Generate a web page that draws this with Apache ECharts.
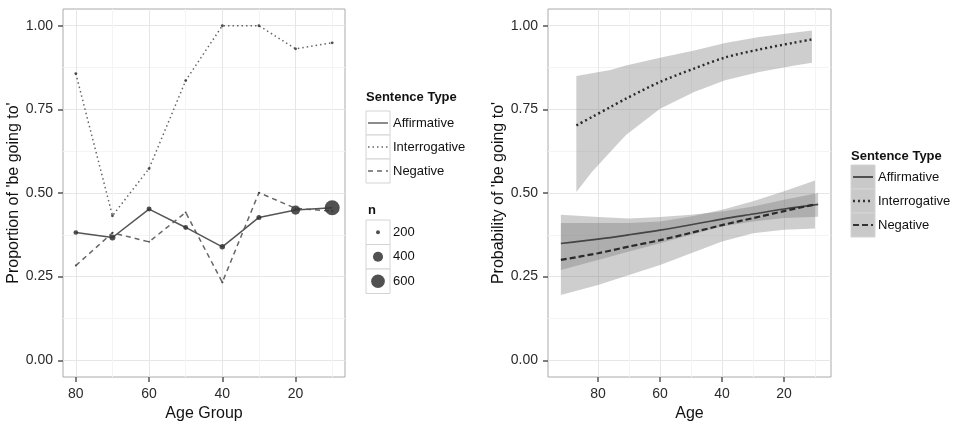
<!DOCTYPE html>
<html>
<head>
<meta charset="utf-8">
<script src="https://cdn.jsdelivr.net/npm/echarts@6/dist/echarts.min.js"></script>
<style>
  html, body { margin: 0; padding: 0; background: #fff; }
  #main { width: 953px; height: 421px; }
</style>
</head>
<body>
<div id="main"></div>
<script>
// left panel: observed proportions per age group
var ageGroups = [80, 70, 60, 50, 40, 30, 20, 10];
var propAff = [0.382, 0.367, 0.452, 0.397, 0.339, 0.427, 0.449, 0.456];
var propInt = [0.857, 0.432, 0.573, 0.836, 1.0, 1.0, 0.931, 0.949];
var propNeg = [0.283, 0.381, 0.354, 0.442, 0.233, 0.501, 0.454, 0.446];
var nAff = [214, 247, 220, 218, 233, 221, 360, 690];
var nInt = [181, 181, 181, 181, 181, 181, 181, 181];
var nNeg = [172, 172, 172, 172, 175, 172, 172, 175];

// right panel: fitted probabilities with confidence bands
var intAges = [87, 82, 76, 71, 60, 49, 39, 28, 17, 11];
var intFit = [0.702, 0.727, 0.757, 0.782, 0.832, 0.872, 0.905, 0.929, 0.949, 0.959];
var intLow = [0.503, 0.563, 0.623, 0.673, 0.752, 0.802, 0.837, 0.862, 0.880, 0.889];
var intHigh = [0.850, 0.858, 0.868, 0.881, 0.904, 0.926, 0.948, 0.966, 0.979, 0.986];

var affAges = [92, 80, 70, 60, 50, 40, 30, 20, 9];
var affFit = [0.349, 0.362, 0.375, 0.389, 0.405, 0.422, 0.437, 0.452, 0.466];
var affLow = [0.27, 0.30, 0.325, 0.35, 0.375, 0.40, 0.415, 0.425, 0.429];
var affHigh = [0.435, 0.428, 0.424, 0.428, 0.435, 0.445, 0.46, 0.48, 0.50];

var negAges = [92, 80, 70, 60, 50, 40, 30, 20, 10];
var negFit = [0.30, 0.32, 0.34, 0.359, 0.381, 0.404, 0.425, 0.446, 0.466];
var negLow = [0.195, 0.225, 0.255, 0.285, 0.32, 0.355, 0.38, 0.39, 0.394];
var negHigh = [0.41, 0.41, 0.41, 0.415, 0.43, 0.45, 0.475, 0.505, 0.537];

var xTicks = [20, 40, 60, 80];
var xMinor = [10, 30, 50, 70];
var yTicks = [0, 0.25, 0.5, 0.75, 1];
var yMinor = [0.125, 0.375, 0.625, 0.875];
var typeNames = ['Affirmative', 'Interrogative', 'Negative'];
var nLegend = [200, 400, 600];

var FONT = 'Liberation Sans';
var bandFill = 'rgba(120,120,120,0.36)';

// point size scale (area ~ linear in n)
function sizeOf(n) {
  return Math.sqrt(Math.max(3, 0.43 * n - 70));
}

function pairs(xs, ys, ns) {
  return xs.map(function (x, i) {
    var d = { value: [x, ys[i]] };
    if (ns) d.symbolSize = sizeOf(ns[i]);
    return d;
  });
}

function band(ages, lo, hi) {
  return function (params, api) {
    var pts = [];
    for (var i = 0; i < ages.length; i++) pts.push(api.coord([ages[i], hi[i]]));
    for (var j = ages.length - 1; j >= 0; j--) pts.push(api.coord([ages[j], lo[j]]));
    return { type: 'polygon', shape: { points: pts }, style: { fill: bandFill } };
  };
}

// major axis: ticks, labels, grid lines
function xAx(grid, min, max, name) {
  return {
    type: 'value', gridIndex: grid, inverse: true, min: min, max: max,
    name: name, nameLocation: 'middle', nameGap: 15,
    nameTextStyle: { fontFamily: FONT, fontSize: 16, color: '#111' },
    axisLine: { show: false, onZero: false },
    axisTick: { show: true, length: 5, customValues: xTicks, lineStyle: { color: '#555', width: 1.5 } },
    axisLabel: { customValues: xTicks, margin: 10, fontFamily: FONT, fontSize: 14, color: '#2a2a2a' },
    splitLine: { show: true, lineStyle: { color: '#e6e6e6', width: 1 } }
  };
}
// minor axis: only the lighter grid lines
function xMinorAx(grid, min, max) {
  return {
    type: 'value', gridIndex: grid, inverse: true, min: min, max: max, position: 'top',
    axisLine: { show: false, onZero: false },
    axisTick: { show: false, customValues: xMinor },
    axisLabel: { show: false },
    splitLine: { show: true, lineStyle: { color: '#f4f4f4', width: 1 } }
  };
}

function yAx(grid, name, gap) {
  return {
    type: 'value', gridIndex: grid, min: -0.05, max: 1.05,
    name: name, nameLocation: 'middle', nameGap: gap,
    nameTextStyle: { fontFamily: FONT, fontSize: 16, color: '#111' },
    axisLine: { show: false, onZero: false },
    axisTick: { show: true, length: 5, customValues: yTicks, lineStyle: { color: '#555', width: 1.5 } },
    axisLabel: {
      customValues: yTicks, margin: 10, fontFamily: FONT, fontSize: 14, color: '#2a2a2a',
      formatter: function (v) { return v.toFixed(2); }
    },
    splitLine: { show: true, lineStyle: { color: '#e6e6e6', width: 1 } }
  };
}
function yMinorAx(grid) {
  return {
    type: 'value', gridIndex: grid, min: -0.05, max: 1.05, position: 'right',
    axisLine: { show: false, onZero: false },
    axisTick: { show: false, customValues: yMinor },
    axisLabel: { show: false },
    splitLine: { show: true, lineStyle: { color: '#f4f4f4', width: 1 } }
  };
}

var leftLine = { color: '#555', width: 1.5 };
var pointStyle = { color: '#333', opacity: 0.85 };

// legends drawn as boxes like the original
var graphics = [];
function txt(x, y, s, bold) {
  graphics.push({
    type: 'text', x: x, y: y,
    style: { text: s, fontFamily: FONT, fontSize: 13, fontWeight: bold ? 'bold' : 'normal',
      fill: '#111', textVerticalAlign: 'middle' }
  });
}
function box(x, y, w, h, fill) {
  graphics.push({ type: 'rect', shape: { x: x, y: y, width: w, height: h },
    style: { fill: fill, stroke: '#d4d4d4', lineWidth: 1 } });
}
function keyLine(x1, x2, y, color, width, dash) {
  graphics.push({ type: 'line', shape: { x1: x1, y1: y, x2: x2, y2: y },
    style: { stroke: color, lineWidth: width, lineDash: dash } });
}

var leftDash = [null, [1.5, 3], [5, 4]];
var rightDash = [null, [2, 3], [6, 3]];
var rightWidth = [1.6, 2.4, 2.2];

txt(366, 97, 'Sentence Type', true);
typeNames.forEach(function (t, i) {
  var top = 111 + i * 24;
  box(366, top, 24, 24, '#fff');
  keyLine(368, 388, top + 12, '#666', 1.5, leftDash[i]);
  txt(393, top + 12, t);
});
txt(368, 210, 'n', true);
nLegend.forEach(function (n, i) {
  var top = 220 + i * 24.5;
  box(366, top, 24, 24.5, '#fff');
  graphics.push({ type: 'circle', shape: { cx: 378, cy: top + 12.25, r: sizeOf(n) / 2 },
    style: { fill: '#333', opacity: 0.85 } });
  txt(393, top + 12.25, String(n));
});
txt(851, 156, 'Sentence Type', true);
typeNames.forEach(function (t, i) {
  var top = 165 + i * 24;
  box(851, top, 24, 24, '#c9c9c9');
  keyLine(853, 873, top + 12, '#333', rightWidth[i], rightDash[i]);
  txt(878, top + 12, t);
});

var chart = echarts.init(document.getElementById('main'));
chart.setOption({
  animation: false,
  backgroundColor: '#fff',
  grid: [
    { left: 63, top: 9, width: 282, height: 368, show: true, borderColor: '#aaa', borderWidth: 1,
      outerBoundsMode: 'none', containLabel: false },
    { left: 548, top: 9, width: 283, height: 368, show: true, borderColor: '#aaa', borderWidth: 1,
      outerBoundsMode: 'none', containLabel: false }
  ],
  xAxis: [
    xAx(0, 6.5, 83.5, 'Age Group'),
    xMinorAx(0, 6.5, 83.5),
    xAx(1, 4.85, 96.15, 'Age'),
    xMinorAx(1, 4.85, 96.15)
  ],
  yAxis: [
    yAx(0, "Proportion of 'be going to'", 26),
    yMinorAx(0),
    yAx(1, "Probability of 'be going to'", 28),
    yMinorAx(1)
  ],
  graphic: graphics,
  series: [
    { type: 'line', name: 'Affirmative', xAxisIndex: 0, yAxisIndex: 0, data: pairs(ageGroups, propAff, nAff),
      symbol: 'circle', lineStyle: leftLine, itemStyle: pointStyle, z: 4 },
    { type: 'line', name: 'Interrogative', xAxisIndex: 0, yAxisIndex: 0, data: pairs(ageGroups, propInt, nInt),
      symbol: 'circle', lineStyle: { color: '#666', width: 1.5, type: leftDash[1] }, itemStyle: pointStyle, z: 3 },
    { type: 'line', name: 'Negative', xAxisIndex: 0, yAxisIndex: 0, data: pairs(ageGroups, propNeg, nNeg),
      symbol: 'circle', lineStyle: { color: '#666', width: 1.5, type: leftDash[2] }, itemStyle: pointStyle, z: 3 },

    { type: 'custom', xAxisIndex: 2, yAxisIndex: 2, data: [[intAges[0], intFit[0]]], renderItem: band(intAges, intLow, intHigh), silent: true, z: 1 },
    { type: 'custom', xAxisIndex: 2, yAxisIndex: 2, data: [[affAges[0], affFit[0]]], renderItem: band(affAges, affLow, affHigh), silent: true, z: 1 },
    { type: 'custom', xAxisIndex: 2, yAxisIndex: 2, data: [[negAges[0], negFit[0]]], renderItem: band(negAges, negLow, negHigh), silent: true, z: 1 },

    { type: 'line', xAxisIndex: 2, yAxisIndex: 2, data: pairs(affAges, affFit), smooth: 0.3, showSymbol: false,
      lineStyle: { color: '#444', width: rightWidth[0] }, z: 3 },
    { type: 'line', xAxisIndex: 2, yAxisIndex: 2, data: pairs(intAges, intFit), smooth: 0.3, showSymbol: false,
      lineStyle: { color: '#2a2a2a', width: rightWidth[1], type: rightDash[1] }, z: 3 },
    { type: 'line', xAxisIndex: 2, yAxisIndex: 2, data: pairs(negAges, negFit), smooth: 0.3, showSymbol: false,
      lineStyle: { color: '#2a2a2a', width: rightWidth[2], type: rightDash[2] }, z: 3 }
  ]
});
</script>
</body>
</html>
